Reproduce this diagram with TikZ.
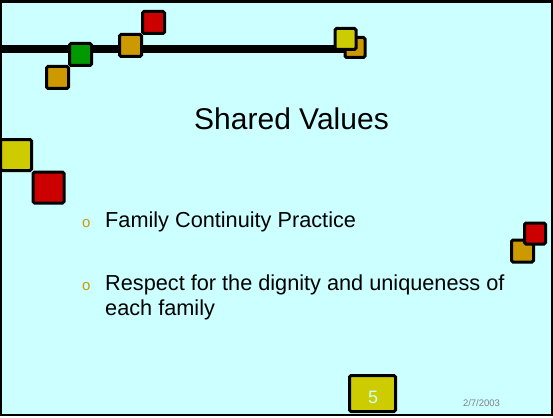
\documentclass[tikz,border=0pt]{standalone}
\usepackage{fontspec}
\setmainfont{Liberation Sans}
\definecolor{bgcyan}{HTML}{CCFFFF}
\definecolor{sqyellow}{HTML}{CCCC00}
\definecolor{sqred}{HTML}{CC0000}
\definecolor{sqorange}{HTML}{CC9900}
\definecolor{sqgreen}{HTML}{009900}
\definecolor{dategray}{HTML}{808080}
\tikzset{
  sq/.style={draw=black, line width=3pt, rounded corners=1.5pt, inner sep=0pt, minimum size=#1},
  sq/.default=22pt,
  bullettext/.style={anchor=base west, inner sep=0pt, font=\fontsize{21.7}{26}\selectfont, text=black},
  bulletmark/.style={anchor=base west, inner sep=0pt, font=\fontsize{15}{17}\selectfont, text=sqorange},
}
\begin{document}
\begin{tikzpicture}[x=1pt,y=-1pt]
\useasboundingbox (0,0) rectangle (553,417);
\fill[white] (0,0) rectangle (553,417);
\draw[fill=bgcyan, line width=2.5pt] (1,1.5) rectangle (552,415);
% top line
\coordinate (lstart) at (-2,49);
\coordinate (lend) at (345,49);
\draw[line width=8pt] (lstart) -- (lend);
% top-left squares
\node[sq, fill=sqorange] (o1) at (57.5,77.5) {};
\node[sq, fill=sqgreen] (g1) at (80.5,54.5) {};
\node[sq, fill=sqorange] (o2) at (130.5,45.5) {};
\node[sq, fill=sqred] (r1) at (153.5,22.5) {};
% top-right squares
\node[sq=20pt, fill=sqorange] (o3) at (355,47.5) {};
\node[sq=21pt, fill=sqyellow] (y1) at (345.5,39) {};
% left squares
\node[sq=31pt, fill=sqyellow] (y2) at (16,155) {};
\node[sq=31pt, fill=sqred] (r2) at (48.5,187.5) {};
% right squares
\node[sq, fill=sqorange] (o4) at (522.5,251) {};
\node[sq=21pt, fill=sqred] (r3) at (535,233.5) {};
% title
\node[anchor=base, inner sep=0pt, font=\fontsize{30}{36}\selectfont] (title) at (291.5,129) {Shared Values};
% bullets
\node[bulletmark] (b1) at (82,227) {o};
\node[bullettext] (t1) at (105,227) {Family Continuity Practice};
\node[bulletmark] (b2) at (82,290) {o};
\node[bullettext] (t2) at (105,290) {Respect for the dignity and uniqueness of};
\node[bullettext] (t3) at (105,315) {each family};
% page number
\node[sq=46pt, minimum height=36pt, minimum width=46pt, fill=sqyellow] (pn) at (372.5,393.5) {};
\node[anchor=base, inner sep=0pt, font=\fontsize{18}{20}\selectfont, text=bgcyan] (pnum) at (373,403) {5};
% date
\node[anchor=base, inner sep=0pt, font=\fontsize{9.5}{11}\selectfont, text=dategray] (date) at (481.5,406) {2/7/2003};
\end{tikzpicture}
\end{document}
